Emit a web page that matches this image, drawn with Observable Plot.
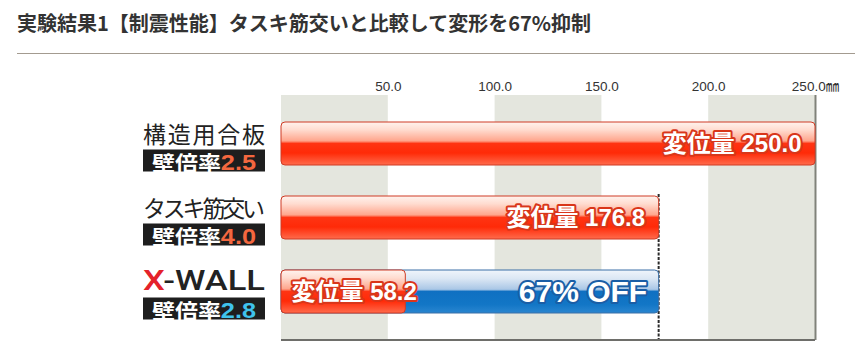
<!DOCTYPE html>
<html>
<head>
<meta charset="utf-8">
<script src="https://cdn.jsdelivr.net/npm/d3@7"></script>
<script src="https://cdn.jsdelivr.net/npm/@observablehq/plot@0.6"></script>
<style>
  html, body { margin: 0; padding: 0; background: #fff; width: 855px; height: 351px; overflow: hidden; }
  #title { position: absolute; left: 17px; top: 8px; font-family: "Noto Sans CJK JP", "Noto Sans", sans-serif; font-weight: bold; font-size: 20px; color: #333; line-height: 30px; white-space: nowrap; }
  #rule { position: absolute; left: 17px; right: 0; top: 53px; height: 1px; background: #a39b90; }
  #chart { position: absolute; left: 0; top: 54px; }
</style>
</head>
<body>
<div id="title">実験結果1【制震性能】タスキ筋交いと比較して変形を67%抑制</div>
<div id="rule"></div>
<div id="chart"></div>
<script>
// ---- data ----
const categories = ["構造用合板", "タスキ筋交い", "X-WALL"];
const displacement = [250.0, 176.8, 58.2];
const wallRatios = ["2.5", "4.0", "2.8"];
const ratioColors = ["#f4673f", "#f4673f", "#3fc3ec"];
const ratioLabel = "壁倍率";
const valueLabel = "変位量";
const reductionLabel = "67% OFF";
const tickValues = [50, 100, 150, 200, 250];
const tickLabels = ["50.0", "100.0", "150.0", "200.0", "250.0㎜"];
const shadedRanges = [[0, 50], [100, 150], [200, 250]];

const rows = categories.map((c, i) => ({category: c, value: displacement[i], ratio: wallRatios[i], color: ratioColors[i]}));
const ticks = tickValues.map((v, i) => ({v, label: tickLabels[i]}));

const CJK = "'Noto Sans CJK JP', 'Noto Sans', sans-serif";
const LAT = "'Liberation Sans', 'Noto Sans CJK JP', sans-serif";

function defsMark() {
  const defs = d3.create("svg:defs");
  const red = defs.append("linearGradient").attr("id", "gRed").attr("x1", 0).attr("x2", 0).attr("y1", 0).attr("y2", 1);
  [[0, "#fff3ee"], [0.18, "#ffdcd0"], [0.44, "#ffa58c"], [0.5, "#ff3413"], [0.72, "#ff2a08"], [1, "#ff6b4c"]]
    .forEach(([o, c]) => red.append("stop").attr("offset", o).attr("stop-color", c));
  const blue = defs.append("linearGradient").attr("id", "gBlue").attr("x1", 0).attr("x2", 0).attr("y1", 0).attr("y2", 1);
  [[0, "#f0f5fb"], [0.2, "#dbe7f4"], [0.45, "#aac7e6"], [0.5, "#0f70c2"], [0.8, "#1276c6"], [1, "#2a86d0"]]
    .forEach(([o, c]) => blue.append("stop").attr("offset", o).attr("stop-color", c));
  return defs.node();
}

function linesMark(index, scales, values, dim) {
  const g = d3.create("svg:g");
  const yb = dim.height - dim.marginBottom;
  const xd = scales.x(displacement[1]);
  g.append("line").attr("x1", xd).attr("x2", xd)
    .attr("y1", scales.y(categories[1]) - 2).attr("y2", yb)
    .attr("stroke", "#2a2a2a").attr("stroke-width", 2).attr("stroke-dasharray", "3 1.5");
  g.append("line").attr("x1", dim.marginLeft).attr("x2", dim.width - dim.marginRight)
    .attr("y1", yb).attr("y2", yb).attr("stroke", "#6e6e6a").attr("stroke-width", 2);
  return g.node();
}

function labelsMark(index, scales, values, dim) {
  const g = d3.create("svg:g");
  const y = scales.y;
  const bw = y.bandwidth ? y.bandwidth() : 43;
  const xr = dim.marginLeft - 16;
  const boxW = 122, boxH = 22;
  rows.forEach((r, i) => {
    const cy = y(r.category) + bw / 2;
    const t = g.append("text").attr("x", xr).attr("y", cy - 11)
      .attr("text-anchor", "end").attr("dominant-baseline", "central")
      .attr("fill", "#222");
    if (r.category === "X-WALL") {
      t.attr("font-family", "Roboto, 'Liberation Sans', sans-serif").attr("font-size", 27).attr("font-weight", 500)
        .attr("textLength", boxW).attr("lengthAdjust", "spacingAndGlyphs");
      t.append("tspan").attr("fill", "#e4222a").text("X");
      t.append("tspan").text("-WALL");
    } else {
      t.attr("font-family", CJK).attr("font-size", 23)
        .attr("textLength", boxW).attr("lengthAdjust", "spacing").text(r.category);
    }
    g.append("rect").attr("x", xr - boxW).attr("y", cy + 6).attr("width", boxW).attr("height", boxH).attr("fill", "#1e1e1e");
    const b = g.append("text").attr("x", xr - boxW + 9).attr("y", cy + 6 + boxH / 2 + 1)
      .attr("text-anchor", "start").attr("dominant-baseline", "central").attr("font-weight", "bold")
      .attr("textLength", 104).attr("lengthAdjust", "spacingAndGlyphs");
    b.append("tspan").attr("font-family", CJK).attr("font-size", 20).attr("fill", "#fff").text(ratioLabel);
    b.append("tspan").attr("font-family", LAT).attr("font-size", 22).attr("fill", r.color).text(r.ratio);
  });
  return g.node();
}

const chart = Plot.plot({
  width: 855,
  height: 297,
  marginLeft: 281,
  marginRight: 40,
  marginTop: 41,
  marginBottom: 11,
  style: {fontFamily: LAT, background: "transparent", overflow: "visible"},
  x: {domain: [0, 250], axis: null},
  y: {domain: categories, paddingInner: 0.42, paddingOuter: 0.36, axis: null},
  marks: [
    defsMark,
    Plot.rect(shadedRanges, {x1: d => d[0], x2: d => d[1], fill: "#e4e6de"}),
    Plot.ruleX([250], {stroke: "#80827a", strokeWidth: 2}),
    linesMark,
    Plot.barX(rows.slice(0, 2), {x1: d => 0, x2: "value", y: "category", fill: "url(#gRed)", stroke: "#cf3b25", strokeWidth: 1, rx: 4}),
    Plot.barX([rows[2]], {x1: d => 0, x2: d => displacement[1], y: "category", fill: "url(#gBlue)", stroke: "#3a6ea6", strokeWidth: 1, rx: 4}),
    Plot.barX([rows[2]], {x1: d => 0, x2: "value", y: "category", fill: "url(#gRed)", stroke: "#cf3b25", strokeWidth: 1, rx: 4}),
    Plot.text(rows.slice(0, 2), {x: "value", y: "category", text: d => `${valueLabel} ${d.value.toFixed(1)}`,
      textAnchor: "end", dx: -14, fill: "white", stroke: "#d9361a", strokeWidth: 4, paintOrder: "stroke",
      fontSize: 24, fontWeight: "bold"}),
    Plot.text([rows[2]], {x: d => 0, y: "category", text: d => `${valueLabel} ${d.value.toFixed(1)}`,
      textAnchor: "start", dx: 10, fill: "white", stroke: "#d9361a", strokeWidth: 4, paintOrder: "stroke",
      fontSize: 24, fontWeight: "bold"}),
    Plot.text([rows[2]], {x: d => displacement[1], y: "category", text: d => reductionLabel,
      textAnchor: "end", dx: -12, fill: "white", stroke: "#1a5ea6", strokeWidth: 4, paintOrder: "stroke",
      fontSize: 30, fontWeight: "bold"}),
    Plot.text(ticks, {x: "v", text: "label", frameAnchor: "top", lineAnchor: "bottom", dy: -5,
      fontSize: 13.5, fill: "#333"}),
    labelsMark
  ]
});
document.getElementById("chart").appendChild(chart);
</script>
</body>
</html>
